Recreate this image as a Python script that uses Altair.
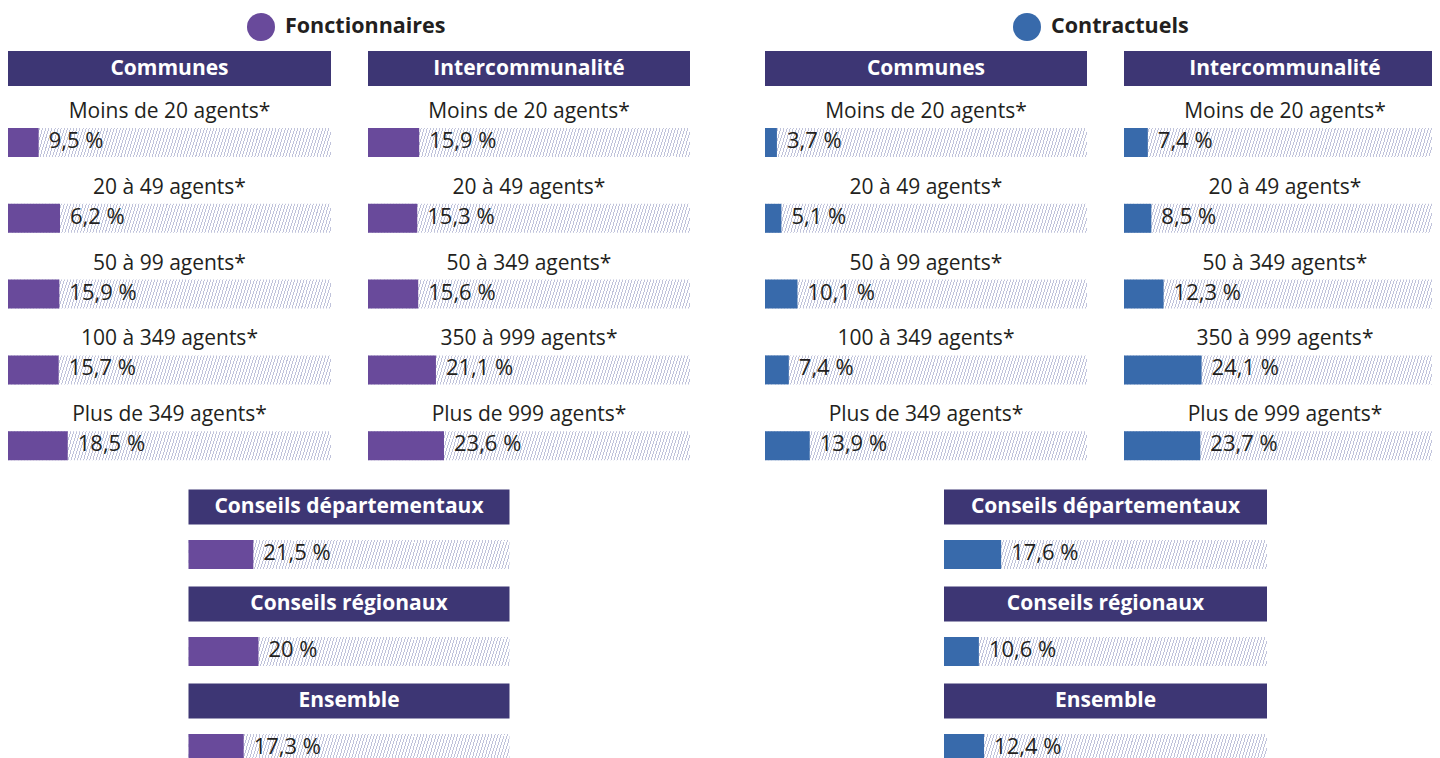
import altair as alt
import pandas as pd

# ---------------- data ----------------
groups = ["Fonctionnaires", "Contractuels"]
panel_titles = ["Communes", "Intercommunalité"]

communes_labels = ["Moins de 20 agents*", "20 à 49 agents*", "50 à 99 agents*",
                   "100 à 349 agents*", "Plus de 349 agents*"]
interco_labels = ["Moins de 20 agents*", "20 à 49 agents*", "50 à 349 agents*",
                  "350 à 999 agents*", "Plus de 999 agents*"]
other_labels = ["Conseils départementaux", "Conseils régionaux", "Ensemble"]

# bar lengths as drawn in the picture (%)
fonc_communes = [9.5, 16.1, 15.9, 15.7, 18.5]
fonc_interco = [15.9, 15.3, 15.6, 21.1, 23.6]
fonc_other = [20.2, 21.8, 17.2]
contr_communes = [3.7, 5.1, 10.1, 7.4, 13.9]
contr_interco = [7.4, 8.5, 12.3, 24.1, 23.7]
contr_other = [17.7, 10.8, 12.4]

# value labels as printed
fonc_communes_txt = ["9,5 %", "6,2 %", "15,9 %", "15,7 %", "18,5 %"]
fonc_interco_txt = ["15,9 %", "15,3 %", "15,6 %", "21,1 %", "23,6 %"]
fonc_other_txt = ["21,5 %", "20 %", "17,3 %"]
contr_communes_txt = ["3,7 %", "5,1 %", "10,1 %", "7,4 %", "13,9 %"]
contr_interco_txt = ["7,4 %", "8,5 %", "12,3 %", "24,1 %", "23,7 %"]
contr_other_txt = ["17,6 %", "10,6 %", "12,4 %"]

# ---------------- style ----------------
FONT = "Open Sans"
HDR = "#3d3674"
PURPLE = "#694a9b"
BLUE = "#386aab"
HATCH = "#c0c3db"
INK = "#231f20"

BAR_H = 29
BAR_OFF = 18.6      # bar centre below row-band centre
LABEL_OFF = -6      # row label baseline relative to band centre
ROW_H = 379         # 5 rows
OTHER_H = 291       # 3 blocks


def hatch_gradient(width=322.0, shift=9.0, period=3.1, line=1.0):
    a = shift / width
    s = 1.03
    p = period / (width * s)
    lw = line / (width * s)
    stops = []
    o = 0.0
    while o < 1.0:
        o1 = min(o + lw, 1.0)
        o2 = min(o + p, 1.0)
        stops += [alt.GradientStop(offset=round(o, 5), color=HATCH),
                  alt.GradientStop(offset=round(o1, 5), color=HATCH),
                  alt.GradientStop(offset=round(o1, 5), color="white"),
                  alt.GradientStop(offset=round(o2, 5), color="white")]
        o += p
    return alt.Gradient(gradient="linear", stops=stops, x1=0, y1=0, x2=s, y2=s * a)


GRAD = hatch_gradient()


def make_legend(lx, ly):
    return alt.Legend(orient="none", legendX=lx, legendY=ly, title=None,
                      symbolType="circle", symbolSize=784, symbolStrokeWidth=0,
                      symbolOpacity=1, labelFontSize=21.5, labelFontWeight="bold",
                      labelFont=FONT, labelColor=INK, labelOffset=10, padding=0,
                      labelLimit=400)


def header_chart(name, width):
    df = pd.DataFrame({"h": [name]})
    rect = alt.Chart(df).mark_rect(color=HDR).encode(
        x=alt.value(0), x2=alt.value("width"), y=alt.value(0), y2=alt.value("height"))
    text = alt.Chart(df).mark_text(font=FONT, fontSize=21, fontWeight="bold",
                                   color="white", baseline="middle", align="center").encode(
        text="h:N")
    return alt.layer(rect, text).properties(width=width, height=35)


def value_layers(base, group, color, legend, off):
    sc = alt.Scale(domain=[0, 100], nice=False, zero=True)
    x = alt.X("value:Q", axis=None, scale=sc)
    bg = base.mark_bar(height=BAR_H, yOffset=off, fill=GRAD).encode(
        x=alt.X(datum=100, type="quantitative", axis=None, scale=sc))
    bar = base.mark_bar(height=BAR_H, yOffset=off).encode(
        x=x,
        color=alt.Color("group:N", scale=alt.Scale(domain=[group], range=[color]),
                        legend=legend))
    txt = base.mark_text(align="left", baseline="alphabetic", dx=10, yOffset=off + 5.5,
                         font=FONT, fontSize=22, color=INK).encode(x=x, text="text:N")
    return [bg, bar, txt]


def frame(labels, values, texts, group):
    return pd.DataFrame({"idx": list(range(len(labels))), "label": labels,
                         "value": values, "text": texts, "group": group})


def rows_chart(labels, values, texts, group, color, width, legend):
    base = alt.Chart(frame(labels, values, texts, group)).encode(
        y=alt.Y("idx:O", axis=None, scale=alt.Scale(paddingInner=0, paddingOuter=0)))
    lab = base.mark_text(align="center", baseline="alphabetic", yOffset=LABEL_OFF,
                         font=FONT, fontSize=21, color=INK).encode(text="label:N")
    layers = value_layers(base, group, color, legend, BAR_OFF) + [lab]
    return alt.layer(*layers).properties(width=width, height=ROW_H)


def column(title, labels, values, texts, group, color, width, legend):
    return alt.vconcat(header_chart(title, width),
                       rows_chart(labels, values, texts, group, color, width, legend),
                       spacing=0)


def other_chart(labels, values, texts, group, color, width, legend):
    base = alt.Chart(frame(labels, values, texts, group)).encode(
        y=alt.Y("idx:O", axis=None, scale=alt.Scale(paddingInner=0, paddingOuter=0)))
    hdr = base.mark_bar(height=35, yOffset=-23.5, color=HDR).encode(
        x=alt.value(0), x2=alt.value("width"))
    hdr_txt = base.mark_text(align="center", baseline="middle", yOffset=-23.5,
                             font=FONT, fontSize=21, fontWeight="bold",
                             color="white").encode(text="label:N")
    layers = [hdr, hdr_txt] + value_layers(base, group, color, legend, 24)
    return alt.layer(*layers).properties(width=width, height=OTHER_H)


def group_chart(gi, com, com_t, itc, itc_t, oth, oth_t, color, widths, other_w, lx):
    g = groups[gi]
    legend = make_legend(lx, -38)
    top = alt.hconcat(
        column(panel_titles[0], communes_labels, com, com_t, g, color, widths[0], legend),
        column(panel_titles[1], interco_labels, itc, itc_t, g, color, widths[1], legend),
        spacing=37)
    bottom = other_chart(other_labels, oth, oth_t, g, color, other_w, legend)
    return alt.vconcat(top, bottom, spacing=17, center=True)


left = group_chart(0, fonc_communes, fonc_communes_txt, fonc_interco, fonc_interco_txt,
                   fonc_other, fonc_other_txt, PURPLE, (323, 322), 321, 239)
right = group_chart(1, contr_communes, contr_communes_txt, contr_interco, contr_interco_txt,
                    contr_other, contr_other_txt, BLUE, (322, 322), 323, 248)

chart = alt.hconcat(left, right, spacing=75).resolve_scale(color="independent").properties(
    padding={"left": 0, "top": 5, "right": -14, "bottom": 0}
).configure(font=FONT).configure_view(stroke=None)

chart.save("out.html", embed_options={"renderer": "svg", "actions": False})
